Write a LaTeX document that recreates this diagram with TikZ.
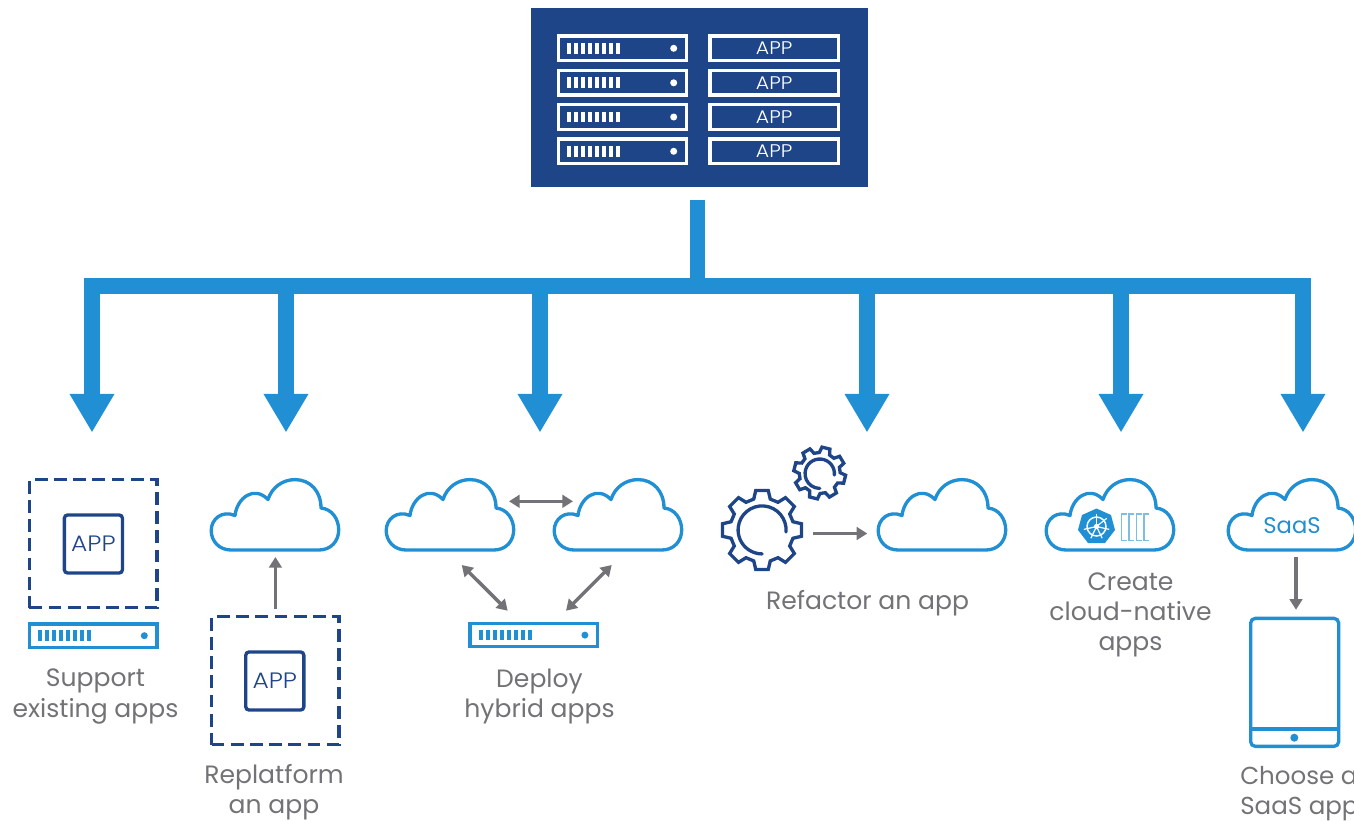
\documentclass[tikz,border=0pt]{standalone}
\usepackage{fontspec}
\setmainfont{Poppins}
\newfontfamily\appfont[FakeStretch=1.12]{Poppins Light}
\usetikzlibrary{arrows.meta}
\definecolor{navy}{HTML}{1F4589}
\definecolor{sky}{HTML}{218FD3}
\definecolor{slate}{HTML}{737277}
\definecolor{pale}{HTML}{7DBDE6}
\tikzset{
  x=0.75pt,y=-0.75pt,
  trunk/.style={draw=sky,line width=11.5pt},
  branch/.style={draw=sky,line width=11.5pt,-{Triangle[length=28.9pt,width=31.5pt]}},
  thin/.style={draw=slate,line width=2.6pt,{Triangle[length=8pt,width=9.5pt]}-{Triangle[length=8pt,width=9.5pt]}},
  thinone/.style={draw=slate,line width=2.6pt,-{Triangle[length=8pt,width=9.5pt]}},
  label/.style={text=slate,font=\fontsize{18.8pt}{22.6pt}\selectfont,align=center,inner sep=0pt},
  cloudline/.style={draw=sky,line width=2.5pt,line join=round},
  dashbox/.style={draw=navy,line width=2.5pt,dash pattern=on 9.6pt off 4.8pt,minimum width=95.6pt,minimum height=96pt,inner sep=0pt,anchor=north west},
  appbox/.style={draw=navy,line width=2.5pt,rounded corners=2.5pt,text=navy,minimum width=43.6pt,minimum height=43.6pt,inner sep=0pt,font=\appfont\fontsize{16.7pt}{16.7pt}\selectfont},
  toprack/.style={draw=white,line width=2.5pt,text=white,minimum width=96.3pt,minimum height=18.5pt,inner sep=0pt,font=\appfont\fontsize{13.7pt}{13.7pt}\selectfont},
  pics/cloud/.style={code={
    \draw[cloudline] (21,72) .. controls (9,72) and (1.2,63) .. (1.2,52.5)
      .. controls (1.2,41) and (12,32) .. (25,37.5)
      .. controls (27,20) and (44,7) .. (58,21.5)
      .. controls (62,9) and (73,1.6) .. (85,1.6)
      .. controls (100,1.6) and (111,13) .. (111,30)
      .. controls (122,31) and (128.7,41) .. (128.7,52)
      .. controls (128.7,63) and (121,72) .. (109,72) -- cycle;
  }},
  pics/server/.style={code={
    \draw[draw=#1,line width=2.5pt] (1.65,1.65) rectangle (129.35,25);
    \foreach \k in {0,...,7}{\fill[#1] ({10.3+7*\k},8) rectangle ++(4,10.7);}
    \fill[#1] (116.6,13.4) circle (3.5);
  }},
  pics/gear/.style n args={4}{code={
    \draw[navy,line width=2.5pt,line join=miter]
      ({#1*cos(#4-9)},{#1*sin(#4-9)})
      \foreach \t in {0,45,...,315}{
        -- ({#1*cos(\t+#4-9)},{#1*sin(\t+#4-9)}) -- ({#1*cos(\t+#4+9)},{#1*sin(\t+#4+9)})
        -- ({#2*cos(\t+#4+15)},{#2*sin(\t+#4+15)}) -- ({#2*cos(\t+#4+30)},{#2*sin(\t+#4+30)})
      } -- cycle;
    \draw[navy,line width=2.5pt,line cap=round] (#3,2) arc[start angle=365,end angle=90,radius=#3];
  }},
}
\begin{document}
\begin{tikzpicture}
\useasboundingbox (0,0) rectangle (1354,821);
\clip (0,0) rectangle (1354,821);

% ---------- top panel
\node[fill=navy,draw=none,minimum width=252.8pt,minimum height=134pt,inner sep=0pt,anchor=north west] (panel) at (531,8) {};
\foreach \r/\y in {1/48.3,2/82.8,3/117,4/151.3}{
  \draw[draw=white,line width=2.5pt] (558.3,\y-12.3) rectangle (686.7,\y+12.3);
  \foreach \k in {0,...,7}{\fill[white] ({566.7+7*\k},\y-5.4) rectangle ++(4,10.7);}
  \fill[white] (673.7,\y) circle (3.5);
  \node[toprack] (app\r) at (774.2,\y) {APP};
}

% ---------- tree
\coordinate (trunkstart) at (697.5,200);
\coordinate (junction) at (697.5,286);
\coordinate (cornerL) at (92,286);
\coordinate (cornerR) at (1303,286);
\coordinate (tipA) at (92,432.5);
\coordinate (tipB) at (286,432.5);
\coordinate (tipC) at (540,432.5);
\coordinate (tipD) at (867,432.5);
\coordinate (tipE) at (1121,432.5);
\coordinate (tipF) at (1303,432.5);
\draw[trunk] (trunkstart) -- (junction);
\draw[branch] (cornerL) -- (tipA);
\draw[branch] (tipB |- junction) -- (tipB);
\draw[branch] (tipC |- junction) -- (tipC);
\draw[branch] (tipD |- junction) -- (tipD);
\draw[branch] (tipE |- junction) -- (tipE);
\draw[branch] (cornerR) -- (tipF);
\draw[draw=sky,line width=11.5pt,line cap=rect] (cornerL) -- (cornerR);

% ---------- support existing apps
\node[dashbox] (dashA) at (27.7,478) {};
\node[appbox] (appA) at (93.4,544) {APP};
\pic at (27.7,622.3) {server=sky};
\node[label] (labelA) at (95.5,696.5) {Support\\existing apps};

% ---------- replatform
\pic at (210,478) {cloud};
\node[dashbox] (dashB) at (210,615) {};
\coordinate (cloudB) at (275,557);
\node[appbox] (appB) at (274.8,681) {APP};
\draw[thinone] ([yshift=4.5pt]dashB.north) -- (dashB.north |- cloudB);
\node[label] (labelB) at (274,792.5) {Replatform\\an app};

% ---------- hybrid
\pic at (385,478) {cloud};
\pic at (553,478) {cloud};
\pic at (468.3,621.7) {server=sky};
\coordinate (hubL) at (509,501.3);
\coordinate (hubR) at (573,501.3);
\coordinate (dlA) at (461.7,565);
\coordinate (dlB) at (507.7,610.7);
\coordinate (drA) at (611.7,565);
\coordinate (drB) at (566,610.7);
\draw[thin] (hubL) -- (hubR);
\draw[thin] (dlA) -- (dlB);
\draw[thin] (drA) -- (drB);
\node[label] (labelC) at (539.5,696.5) {Deploy\\hybrid apps};

% ---------- refactor
\pic at (762,530) {gear={40}{32}{24}{0}};
\pic at (819.7,473) {gear={26}{20.5}{14.7}{14}};
\pic at (877,478) {cloud};
\coordinate (gearOut) at (813.3,533.5);
\coordinate (cloudIn) at (867.3,533.5);
\draw[thinone] (gearOut) -- (cloudIn);
\node[label] (labelD) at (867.5,603) {Refactor an app};

% ---------- cloud native
\pic at (1045,478) {cloud};
\fill[sky] (1096.5,508.5) -- (1111,515) -- (1115,530) -- (1105,543) -- (1088,543) -- (1078,530) -- (1082,515) -- cycle;
\draw[white,line width=1.1pt] (1096.5,526.5) circle (9.5);
\foreach \a in {0,51.4,...,308}{\draw[white,line width=0.9pt] (1096.5,526.5) -- ++({\a-90}:13);}
\fill[white] (1096.5,526.5) circle (2.6);
\foreach \x in {1121.5,1129,1136.7,1144}{
  \draw[pale,line width=1.1pt] (\x+5,514) -- (\x,514) -- (\x,540.5) -- (\x+5,540.5);
}
\node[label] (labelE) at (1130.5,615) {Create\\cloud-native\\apps};

% ---------- saas
\pic at (1227,478) {cloud};
\node[text=sky,font=\fontsize{17pt}{17pt}\selectfont,inner sep=0pt] (saas) at (1292,526) {SaaS};
\node[draw=sky,line width=2.5pt,rounded corners=3.5pt,minimum width=66pt,minimum height=96pt,inner sep=0pt,anchor=north west] (tablet) at (1249,616.7) {};
\draw[sky,line width=2.5pt] (tablet.west |- 0,729) -- (tablet.east |- 0,729);
\fill[sky] (1294.3,737.7) circle (4);
\coordinate (saasOut) at (1296,556.7);
\draw[thinone] (saasOut) -- ([yshift=5.2pt]tablet.north -| saasOut);
\node[label,anchor=north west,align=left,font=\fontsize{18.4pt}{22.6pt}\selectfont] (labelF) at (1240,766) {Choose a\\SaaS apps};
\end{tikzpicture}
\end{document}
